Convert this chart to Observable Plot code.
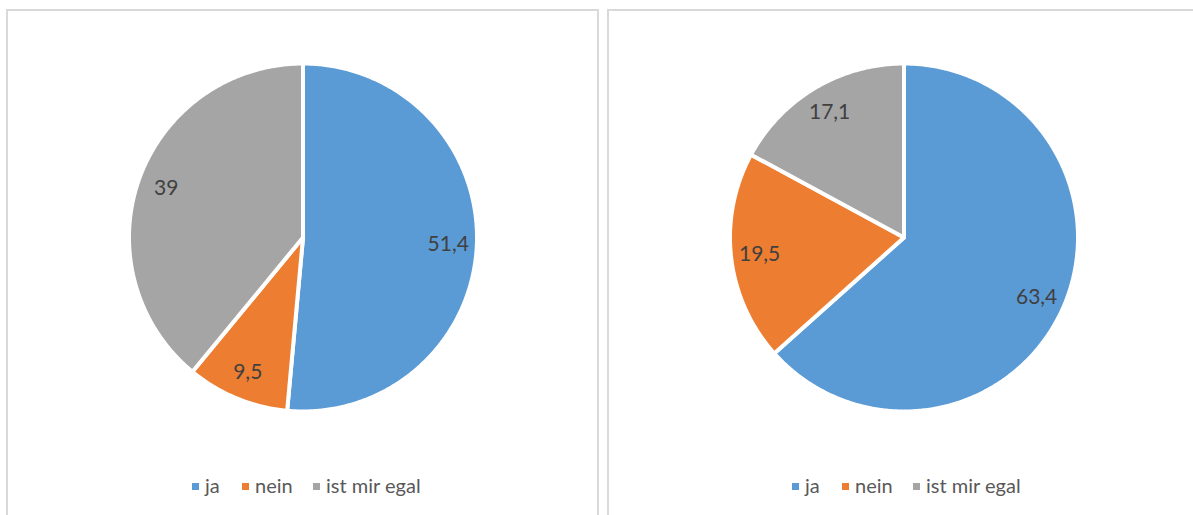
<!DOCTYPE html>
<html>
<head>
<meta charset="utf-8">
<script src="https://cdn.jsdelivr.net/npm/d3@7"></script>
<script src="https://cdn.jsdelivr.net/npm/@observablehq/plot@0.6"></script>
<style>
  html, body { margin: 0; padding: 0; background: #fff; overflow: hidden; }
  body { width: 1193px; height: 515px; position: relative; font-family: Lato, "Open Sans", sans-serif; }
  .panel { position: absolute; box-sizing: border-box; border: 2px solid #d9d9d9; background: #fff; }
  .chart { position: absolute; }
  .legend { position: absolute; height: 20px; }
  .sw { position: absolute; width: 7px; height: 7px; top: 6.5px; }
  .lt { position: absolute; top: -3px; font-size: 20px; color: #595959; white-space: nowrap; line-height: 24px; }
</style>
</head>
<body>
<div class="panel" style="left:6px; top:9px; width:593px; height:530px;"></div>
<div class="panel" style="left:607px; top:9px; width:600px; height:530px;"></div>
<script>
const categories = ["ja", "nein", "ist mir egal"];
const valuesLeft = [51.4, 9.5, 39];
const valuesRight = [63.4, 19.5, 17.1];
const colors = ["#5B9BD5", "#ED7D31", "#A5A5A5"];

const W = 590, H = 470, R = 172;      // svg size, pie radius in px
const cxPx = 293.5, cyPx = 226;       // pie centre inside svg

function pieChart(values) {
  const rows = categories.map((c, i) => ({cat: c, v: values[i]}));
  const arcs = d3.pie().sort(null).value(d => d.v)(rows);
  const rOut = 1 + 2 / R;
  const pts = [];
  for (const a of arcs) {
    pts.push({cat: a.data.cat, x: 0, y: 0});
    const n = Math.max(2, Math.ceil((a.endAngle - a.startAngle) / 0.01));
    for (let k = 0; k <= n; k++) {
      const t = a.startAngle + (a.endAngle - a.startAngle) * k / n;
      pts.push({cat: a.data.cat, x: rOut * Math.sin(t), y: rOut * Math.cos(t)});
    }
    pts.push({cat: a.data.cat, x: 0, y: 0});
  }
  const labels = arcs.map(a => {
    const m = (a.startAngle + a.endAngle) / 2;
    return {x: 0.845 * Math.sin(m), y: 0.845 * Math.cos(m), text: String(a.data.v).replace(".", ",")};
  });
  return Plot.plot({
    width: W, height: H,
    margin: 0,
    style: {background: "transparent", overflow: "visible"},
    x: {domain: [-cxPx / R, (W - cxPx) / R], axis: null},
    y: {domain: [-(H - cyPx) / R, cyPx / R], axis: null},
    color: {domain: categories, range: colors},
    marks: [
      Plot.line(pts, {x: "x", y: "y", z: "cat", fill: "cat", stroke: "white", strokeWidth: 4, strokeLinejoin: "round", curve: "linear"}),
      Plot.text(labels, {x: "x", y: "y", text: "text", fontSize: 21, fill: "#404040", fontFamily: "Lato, sans-serif"})
    ]
  });
}

function legend(left) {
  const div = document.createElement("div");
  div.className = "legend";
  div.style.left = left + "px";
  div.style.top = "476px";
  const offs = [0, 50, 121];
  categories.forEach((c, i) => {
    const s = document.createElement("div");
    s.className = "sw"; s.style.left = offs[i] + "px"; s.style.background = colors[i];
    const t = document.createElement("div");
    t.className = "lt"; t.style.left = (offs[i] + 13) + "px"; t.textContent = c;
    div.appendChild(s); div.appendChild(t);
  });
  document.body.appendChild(div);
}

const left = pieChart(valuesLeft);
left.classList.add("chart");
left.style.left = (302.5 - cxPx) + "px";
left.style.top = (237 - cyPx) + "px";
document.body.appendChild(left);

const right = pieChart(valuesRight);
right.classList.add("chart");
right.style.left = (903 - cxPx) + "px";
right.style.top = (237 - cyPx) + "px";
document.body.appendChild(right);

legend(192);
legend(792);
</script>
</body>
</html>
